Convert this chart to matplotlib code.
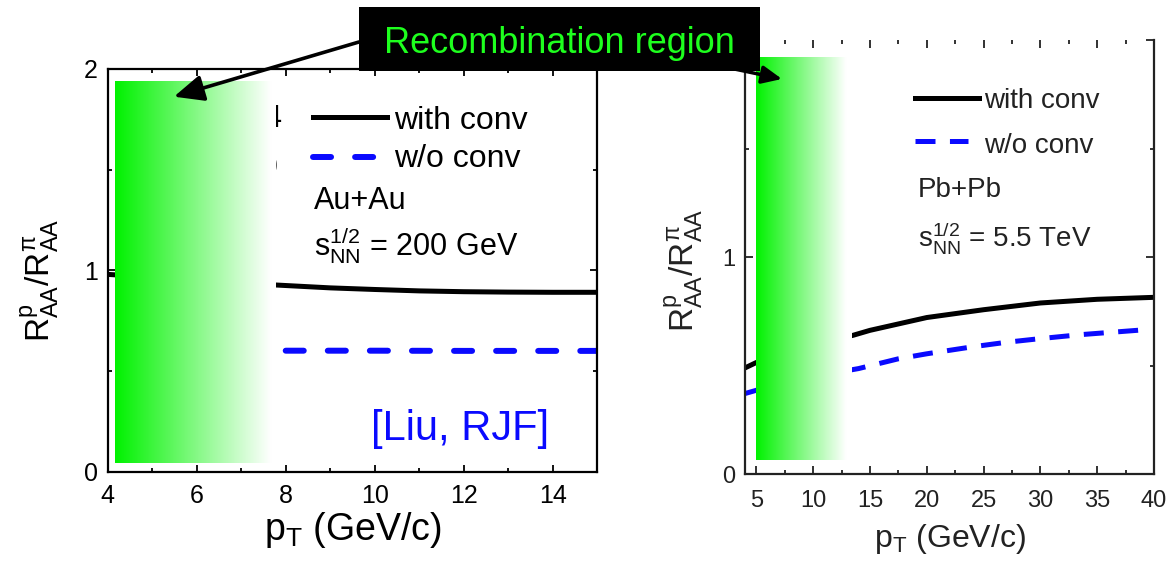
import numpy as np
import matplotlib
matplotlib.use('Agg')
import matplotlib.pyplot as plt
from matplotlib.patches import Rectangle, FancyArrowPatch

plt.rcParams['font.family'] = 'Liberation Sans'
plt.rcParams['mathtext.fontset'] = 'custom'
plt.rcParams['mathtext.rm'] = 'Liberation Sans'
plt.rcParams['mathtext.it'] = 'Liberation Sans:italic'
plt.rcParams['mathtext.sf'] = 'Liberation Sans'
plt.rcParams['lines.scale_dashes'] = False

# Au+Au at 200 GeV
pt_rhic_conv = [4, 7.8, 9, 10, 11, 12, 13, 14, 15]
ratio_rhic_conv = [0.98, 0.927, 0.913, 0.905, 0.898, 0.894, 0.892, 0.891, 0.891]
pt_rhic_noconv = [8, 10, 12, 15]
ratio_rhic_noconv = [0.601, 0.601, 0.600, 0.600]

# Pb+Pb at 5.5 TeV
pt_lhc_conv = [4, 5, 10, 13.5, 15, 20, 25, 30, 35, 40]
ratio_lhc_conv = [0.49, 0.515, 0.60, 0.64, 0.663, 0.722, 0.758, 0.789, 0.806, 0.815]
pt_lhc_noconv = [4, 5, 10, 14, 17.5, 20, 24, 27, 30, 33.5, 39]
ratio_lhc_noconv = [0.372, 0.387, 0.45, 0.487, 0.532, 0.555, 0.587, 0.608, 0.625, 0.643, 0.665]

# recombination band in pT: start, fully faded, end
band_rhic = [4.16, 7.65, 7.76]
band_lhc = [5.0, 12.9, 13.4]
band_y = [[0.045, 1.94], [0.066, 1.92]]

GREEN = np.array([0.0, 0.95, 0.0])
YLAB = r'$\mathregular{R_{AA}^{p}/R_{AA}^{\pi}}$'
XLAB = r'p$\mathregular{_T}$ (GeV/c)'


def green_band(ax, band, ys):
    x0, xw, x1 = band
    x = np.linspace(x0, x1, 500)
    t = np.clip((x - x0) / (xw - x0), 0, 1)[:, None]
    rgb = GREEN[None, :] * (1 - t) + t
    ax.imshow(rgb[None, :, :], extent=(x0, x1, ys[0], ys[1]), aspect='auto',
              interpolation='bilinear', zorder=3)


def style_axes(ax, color, major_len, xpad, ypad, size):
    ax.tick_params(which='both', direction='in', top=True, right=True,
                   colors=color, labelsize=size, width=1.3)
    ax.tick_params(which='major', length=major_len)
    ax.tick_params(which='minor', length=3)
    ax.tick_params(axis='x', pad=xpad)
    ax.tick_params(axis='y', pad=ypad)
    for s in ax.spines.values():
        s.set_linewidth(1.6)
        s.set_color(color)


fig = plt.figure(figsize=(11.69, 5.65), dpi=100)
ax1 = fig.add_axes([0.0921, 0.1651, 0.4188, 0.7128])
ax2 = fig.add_axes([0.6373, 0.1605, 0.3499, 0.7687])

# ---- left: RHIC
ax1.plot(pt_rhic_conv, ratio_rhic_conv, color='black', lw=3.6, zorder=2)
ax1.plot(pt_rhic_noconv, ratio_rhic_noconv, color='#0a0aff', lw=4.3,
         dashes=(13, 17.3), dash_capstyle='round', zorder=2)
ax1.text(7.90, 1.71, '4', fontsize=22, ha='right', zorder=2)
ax1.text(7.84, 1.49, ')', fontsize=20, ha='right', zorder=2)
green_band(ax1, band_rhic, band_y[0])

ax1.plot([0.4198, 0.5707], [0.8816, 0.8816], color='black', lw=3.6,
         transform=ax1.transAxes, zorder=4)
ax1.plot([0.4198, 0.5557], [0.7822, 0.7822], color='#0a0aff', lw=4.3,
         dashes=(13, 17.3), dash_capstyle='round', transform=ax1.transAxes, zorder=4)
ax1.text(0.5848, 0.8519, 'with conv', fontsize=23, transform=ax1.transAxes, zorder=4)
ax1.text(0.5848, 0.7574, 'w/o conv', fontsize=23, transform=ax1.transAxes, zorder=4)
ax1.text(0.4214, 0.6516, 'Au+Au', fontsize=22, transform=ax1.transAxes, zorder=4)
ax1.text(0.4214, 0.5381, r'$\mathregular{s_{NN}^{1/2}}$ = 200 GeV', fontsize=22,
         transform=ax1.transAxes, zorder=4)
ax1.text(0.5378, 0.0787, '[Liu, RJF]', fontsize=30, color='#0a0aff',
         transform=ax1.transAxes, zorder=4)

ax1.set_xlim(4, 15)
ax1.set_ylim(0, 2)
ax1.set_xticks([4, 6, 8, 10, 12, 14])
ax1.set_xticks([5, 7, 9, 11, 13, 15], minor=True)
ax1.set_yticks([0, 1, 2])
ax1.set_yticks([0.5, 1.5], minor=True)
style_axes(ax1, 'black', 5, 9, 7, 18)
ax1.set_xlabel(XLAB, fontsize=27)
ax1.xaxis.set_label_coords(0.5, -0.095)
ax1.set_ylabel(YLAB, fontsize=24)
ax1.yaxis.set_label_coords(-0.095, 0.476)

# ---- right: LHC
DARK = '#222222'
ax2.plot(pt_lhc_conv, ratio_lhc_conv, color='black', lw=3.6, zorder=2)
ax2.plot(pt_lhc_noconv, ratio_lhc_noconv, color='#0a0aff', lw=3.6,
         dashes=(14.4, 10.4), zorder=2)
green_band(ax2, band_lhc, band_y[1])

ax2.plot([0.4156, 0.5721], [0.8658, 0.8658], color='black', lw=3.6,
         transform=ax2.transAxes, zorder=4)
ax2.plot([0.4156, 0.5452], [0.768, 0.768], color='#0a0aff', lw=3.6,
         dashes=(14.4, 10.4), transform=ax2.transAxes, zorder=4)
ax2.text(0.584, 0.8427, 'with conv', fontsize=20, color=DARK,
         transform=ax2.transAxes, zorder=4)
ax2.text(0.584, 0.7405, 'w/o conv', fontsize=20, color=DARK,
         transform=ax2.transAxes, zorder=4)
ax2.text(0.4218, 0.6392, 'Pb+Pb', fontsize=20, color=DARK,
         transform=ax2.transAxes, zorder=4)
ax2.text(0.4218, 0.524, r'$\mathregular{s_{NN}^{1/2}}$ = 5.5 TeV', fontsize=20,
         color=DARK, transform=ax2.transAxes, zorder=4)

ax2.set_xlim(4, 40)
ax2.set_ylim(0, 2)
ax2.set_xticks([5, 10, 15, 20, 25, 30, 35, 40])
ax2.set_xticks([7.5, 12.5, 17.5, 22.5, 27.5, 32.5, 37.5], minor=True)
ax2.set_yticks([0, 1, 2])
ax2.set_yticks([0.5, 1.5], minor=True)
ax2.set_yticklabels(['0', '1', ''])
style_axes(ax2, DARK, 6, 11, 7, 17)
ax2.spines['top'].set_visible(False)
ax2.set_xlabel(XLAB, fontsize=23, color=DARK)
ax2.xaxis.set_label_coords(0.5, -0.11)
ax2.set_ylabel(YLAB, fontsize=24, color=DARK)
ax2.yaxis.set_label_coords(-0.098, 0.47)

# ---- callout
fig.add_artist(FancyArrowPatch((0.3071, 0.9257), (0.1488, 0.8289),
                               transform=fig.transFigure,
                               arrowstyle='-|>,head_length=0.9,head_width=0.4',
                               mutation_scale=20, lw=2.6, color='black',
                               shrinkA=0, shrinkB=0, zorder=8))
fig.add_artist(FancyArrowPatch((0.6159, 0.8832), (0.6689, 0.8602),
                               transform=fig.transFigure,
                               arrowstyle='-|>,head_length=1.0,head_width=0.45',
                               mutation_scale=12, lw=2.5, color='black',
                               shrinkA=0, shrinkB=0, zorder=8))
fig.add_artist(Rectangle((0.3071, 0.8749), 0.3430, 0.1127, transform=fig.transFigure,
                         facecolor='black', edgecolor='none', zorder=9))
fig.text(0.4786, 0.906, 'Recombination region', color='#1eff1e', fontsize=26,
         ha='center', va='baseline', zorder=10)

fig.savefig('out.png', dpi=100)
